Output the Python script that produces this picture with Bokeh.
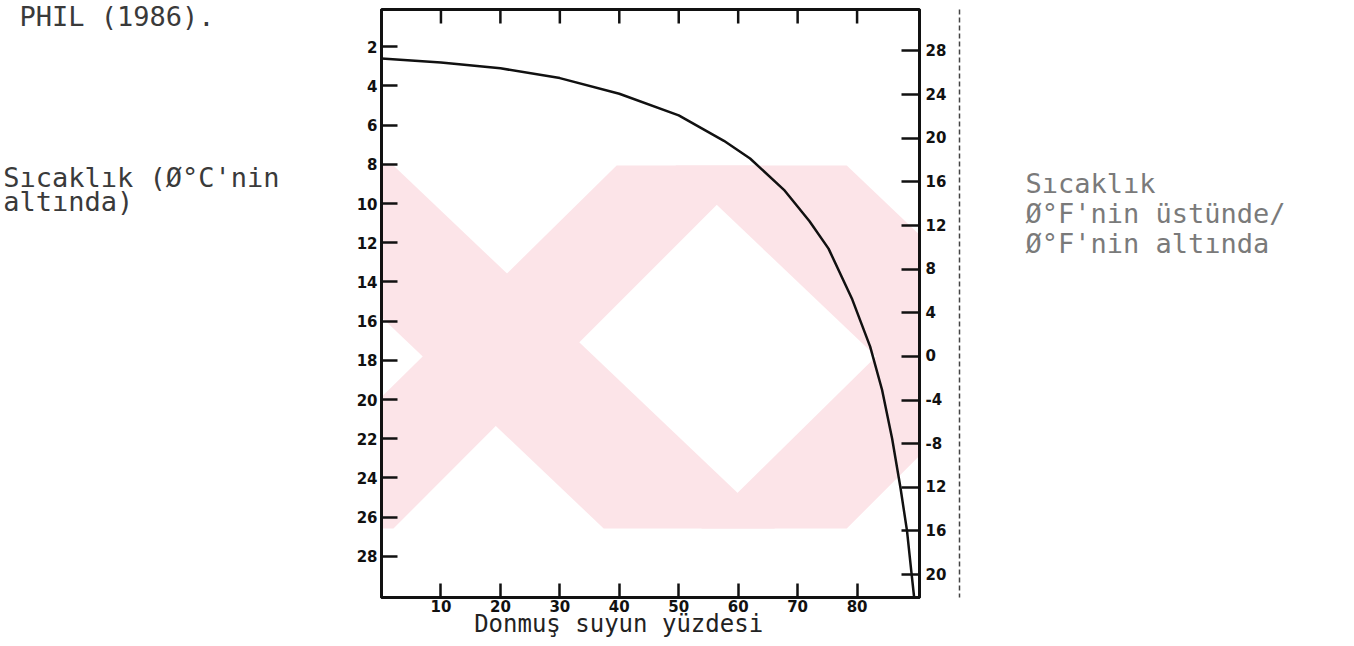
from bokeh.plotting import figure
from bokeh.models import Range1d, LinearAxis, FixedTicker, PolyAnnotation
from bokeh.embed import file_html
from bokeh.resources import INLINE

# ---- data ----
frozen_pct = [0, 10, 20, 30, 40, 50, 57.6, 62, 67.7, 72, 75.2, 79.2, 82.2, 84.2, 85.9, 87.3, 88.4, 89.1, 89.6]
temp_below_c = [2.6, 2.8, 3.1, 3.6, 4.4, 5.5, 6.8, 7.7, 9.3, 10.9, 12.3, 14.9, 17.3, 19.5, 22.0, 24.5, 26.7, 28.7, 30.1]

c_ticks = [2, 4, 6, 8, 10, 12, 14, 16, 18, 20, 22, 24, 26, 28]
c_labels = ["2", "4", "6", "8", "10", "12", "14", "16", "18", "20", "22", "24", "26", "28"]
f_ticks = [28, 24, 20, 16, 12, 8, 4, 0, -4, -8, -12, -16, -20]
f_labels = ["28", "24", "20", "16", "12", "8", "4", "0", "-4", "-8", "12", "16", "20"]
pct_ticks = [10, 20, 30, 40, 50, 60, 70, 80]
pct_labels = ["10", "20", "30", "40", "50", "60", "70", "80"]

title_text = "PHIL (1986)."
left_title = ["Sıcaklık (Ø°C'nin", "altında)"]
right_title = ["Sıcaklık", "Ø°F'nin üstünde/", "Ø°F'nin altında"]
x_title = "Donmuş suyun yüzdesi"

# ---- layout (canvas pixels) ----
W, H = 1338, 640
FL, FR, FT, FB = 379, 919, 9, 597
XR = (0, 90.5)
YR = (30.1, 0.1)
FRANGE = (-22.1, 31.8)
NB = "\u00a0"


def cx(px):
    return XR[0] + (px - FL) / (FR - FL) * (XR[1] - XR[0])


def cy(py):
    return YR[1] + (py - FT) / (FB - FT) * (YR[0] - YR[1])


p = figure(width=W, height=H, x_range=Range1d(*XR), y_range=Range1d(*YR),
           output_backend="svg", toolbar_location=None,
           x_axis_location=None, y_axis_location=None,
           min_border_left=FL, min_border_right=W - FR,
           min_border_top=FT, min_border_bottom=H - FB)
p.extra_y_ranges = {"f": Range1d(*FRANGE)}
p.outline_line_color = "#111111"
p.outline_line_width = 3
p.grid.visible = False
p.border_fill_color = "white"

# ---- decorative scan watermark (light pink diagonal bands, canvas pixels) ----
watermark_bands = [
    ([219, 391, 774, 602], [165, 165, 528, 528]),
    ([615, 755, 391, 245], [165, 165, 528, 528]),
    ([674, 846, 1229, 1057], [165, 165, 528, 528]),
    ([1070, 1210, 846, 700], [165, 165, 528, 528]),
]
for bx, by in watermark_bands:
    p.add_layout(PolyAnnotation(xs=[cx(v) for v in bx], ys=[cy(v) for v in by],
                                fill_color="#fce4e8", fill_alpha=1.0, line_color=None,
                                level="underlay"))

# ---- curve ----
p.line(frozen_pct, temp_below_c, line_color="#111111", line_width=2.5)

# top frame ticks (pointing down into the plot)
tick_len = 14 / (FB - FT) * (YR[0] - YR[1])
p.segment(x0=pct_ticks, x1=pct_ticks, y0=[YR[1]] * len(pct_ticks),
          y1=[YR[1] + tick_len] * len(pct_ticks), line_color="#111111", line_width=2.5)

common = dict(major_tick_out=0, minor_tick_line_color=None, axis_line_width=3,
              axis_line_color="#111111", major_tick_line_width=2.5,
              major_tick_line_color="#111111",
              major_label_text_font="DejaVu Sans",
              major_label_text_font_style="bold",
              major_label_text_font_size="15px",
              major_label_text_color="#111111")

left = LinearAxis(ticker=FixedTicker(ticks=c_ticks),
                  major_label_overrides=dict(zip(c_ticks, c_labels)),
                  major_tick_in=16, major_label_standoff=4, **common)
right = LinearAxis(y_range_name="f", ticker=FixedTicker(ticks=f_ticks),
                   major_label_overrides={t: l + NB * 2 for t, l in zip(f_ticks, f_labels)},
                   major_tick_in=18, major_label_standoff=6, **common)
bottom = LinearAxis(ticker=FixedTicker(ticks=pct_ticks),
                    major_label_overrides=dict(zip(pct_ticks, pct_labels)),
                    major_tick_in=14, major_label_standoff=2, **common)

# ---- text blocks, set as labels of tickless axes so they sit outside the frame ----
mono = "DejaVu Sans Mono"
text_common = dict(axis_line_color=None, major_tick_line_color=None,
                   minor_tick_line_color=None, major_label_text_font=mono)

left_lines = [NB + title_text + NB * 4, left_title[0], left_title[1] + NB * 9]
left_pos = [cy(11), cy(177), cy(201)]
left_text = LinearAxis(ticker=FixedTicker(ticks=left_pos),
                       major_label_overrides=dict(zip(left_pos, left_lines)),
                       major_label_standoff=68, major_label_text_color="#3a3a3a",
                       major_label_text_font_size="27px", **text_common)

right_pos = [cy(183), cy(213), cy(243)]
rt = dict(text_common)
rt["axis_line_color"] = "#444444"
right_text = LinearAxis(ticker=FixedTicker(ticks=right_pos),
                        major_label_overrides=dict(zip(right_pos, right_title)),
                        major_label_standoff=60, major_label_text_color="#7a7a7a",
                        major_label_text_font_size="27px",
                        axis_line_width=1.5, axis_line_dash="5 3", **rt)

bottom_pos = [cx(617)]
bottom_text = LinearAxis(ticker=FixedTicker(ticks=bottom_pos),
                         major_label_overrides={bottom_pos[0]: x_title},
                         major_label_standoff=-11, major_label_text_color="#222222",
                         major_label_text_font_size="24px", **text_common)

p.add_layout(left, "left")
p.add_layout(left_text, "left")
p.add_layout(right, "right")
p.add_layout(right_text, "right")
p.add_layout(bottom, "below")
p.add_layout(bottom_text, "below")

open("out.html", "w").write(file_html(p, INLINE))
